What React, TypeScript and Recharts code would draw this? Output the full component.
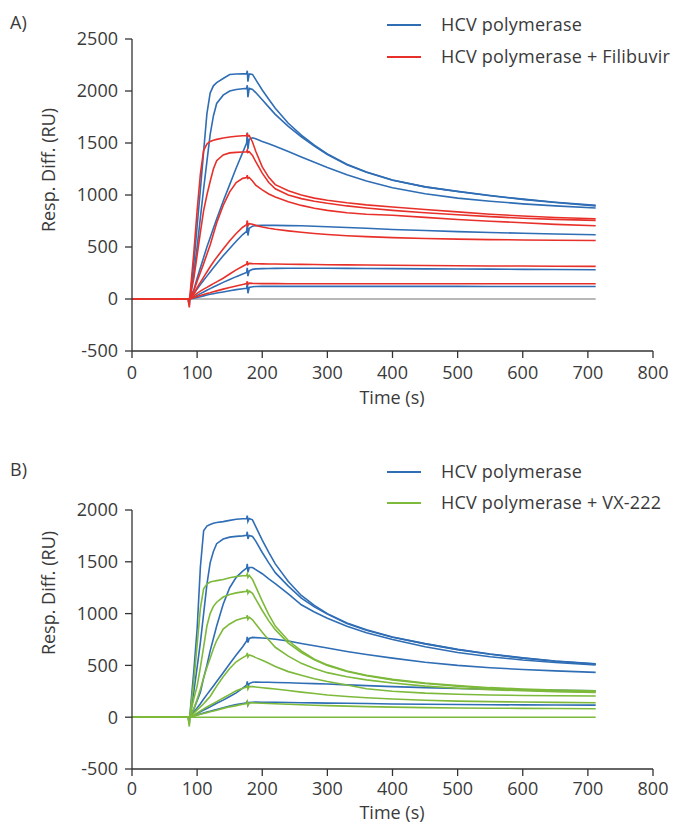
import React from 'react';
import { LineChart, Line, XAxis, YAxis } from 'recharts';

// Time grid (s)
const TIME = [0, 86, 88, 90, 95, 100, 105, 110, 115, 120, 125, 130, 140, 150, 160, 170, 176, 177, 178, 180, 185, 190, 200, 210, 220, 240, 260, 280, 300, 330, 360, 400, 450, 500, 550, 600, 650, 712];

const X_TICKS = [0, 100, 200, 300, 400, 500, 600, 700, 800];
const Y_TICKS_A = [-500, 0, 500, 1000, 1500, 2000, 2500];
const Y_TICKS_B = [-500, 0, 500, 1000, 1500, 2000];

const ZERO = [0, 0, 0, 0, 0, 0, 0, 0, 0, 0, 0, 0, 0, 0, 0, 0, 0, 0, 0, 0, 0, 0, 0, 0, 0, 0, 0, 0, 0, 0, 0, 0, 0, 0, 0, 0, 0, 0];

// Panel A – HCV polymerase
const A_BLUE_1 = [0, 0, -60, 80, 350, 700, 1050, 1420, 1780, 1980, 2050, 2080, 2120, 2158, 2163, 2165, 2165, 2195, 2090, 2165, 2160, 2110, 2010, 1920, 1835, 1690, 1575, 1480, 1395, 1295, 1222, 1145, 1078, 1035, 995, 960, 930, 900];
const A_BLUE_2 = [0, 0, 0, 40, 250, 500, 780, 1060, 1320, 1580, 1760, 1880, 1960, 2000, 2015, 2022, 2025, 2055, 1940, 2025, 2015, 1985, 1915, 1845, 1775, 1660, 1560, 1470, 1390, 1290, 1218, 1142, 1078, 1033, 993, 958, 928, 895];
const A_BLUE_3 = [0, 0, 0, 20, 90, 200, 300, 400, 500, 590, 680, 770, 940, 1100, 1260, 1410, 1500, 1600, 1440, 1535, 1550, 1540, 1515, 1492, 1468, 1418, 1365, 1315, 1265, 1195, 1135, 1070, 1012, 970, 940, 915, 895, 875];
const A_BLUE_4 = [0, 0, 0, 10, 50, 95, 138, 180, 220, 260, 300, 340, 415, 485, 555, 620, 650, 720, 610, 680, 700, 706, 708, 708, 708, 706, 704, 700, 695, 688, 680, 668, 658, 648, 640, 632, 625, 618];
const A_BLUE_5 = [0, 0, 0, 5, 18, 35, 52, 68, 84, 100, 115, 130, 160, 188, 215, 240, 255, 300, 220, 270, 285, 290, 292, 293, 294, 295, 295, 295, 295, 294, 293, 292, 290, 288, 287, 285, 283, 281];
const A_BLUE_6 = [0, 0, 0, 2, 8, 15, 22, 30, 38, 45, 51, 57, 68, 79, 90, 99, 103, 155, 55, 112, 118, 120, 121, 121, 121, 121, 121, 121, 121, 121, 121, 121, 121, 121, 120, 120, 120, 120];

// Panel A – HCV polymerase + Filibuvir
const A_RED_1 = [0, 0, -80, 100, 450, 850, 1200, 1430, 1490, 1515, 1527, 1535, 1548, 1558, 1565, 1570, 1572, 1595, 1565, 1572, 1510, 1420, 1270, 1170, 1100, 1040, 1000, 970, 950, 925, 905, 885, 860, 838, 815, 798, 783, 772];
const A_RED_2 = [0, 0, 0, 50, 200, 420, 640, 850, 1000, 1130, 1250, 1330, 1385, 1405, 1410, 1413, 1415, 1432, 1408, 1415, 1380, 1320, 1210, 1120, 1060, 1000, 965, 940, 920, 895, 875, 852, 830, 810, 792, 777, 766, 756];
const A_RED_3 = [0, 0, 0, 20, 80, 170, 255, 340, 430, 520, 625, 730, 900, 1030, 1120, 1160, 1168, 1190, 1160, 1168, 1135, 1095, 1050, 1010, 980, 935, 900, 872, 852, 830, 815, 805, 785, 765, 748, 733, 718, 705];
const A_RED_4 = [0, 0, 0, 10, 50, 110, 160, 210, 260, 310, 355, 400, 480, 560, 630, 690, 715, 755, 705, 725, 718, 708, 692, 680, 670, 655, 642, 630, 620, 608, 600, 590, 582, 576, 571, 568, 565, 562];
const A_RED_5 = [0, 0, 0, 5, 30, 55, 75, 95, 112, 130, 148, 165, 200, 240, 280, 315, 335, 365, 330, 342, 340, 339, 338, 337, 336, 334, 333, 332, 330, 328, 327, 325, 322, 320, 318, 317, 315, 314];
const A_RED_6 = [0, 0, 0, 3, 15, 25, 34, 43, 52, 60, 69, 78, 95, 110, 125, 140, 148, 170, 140, 152, 150, 149, 148, 148, 148, 147, 147, 147, 147, 147, 147, 147, 147, 147, 147, 147, 147, 147];

// Panel B – HCV polymerase
const B_BLUE_1 = [0, 0, -60, 100, 450, 850, 1450, 1800, 1845, 1860, 1872, 1880, 1888, 1900, 1910, 1915, 1918, 1945, 1890, 1918, 1905, 1840, 1710, 1590, 1480, 1310, 1175, 1080, 1000, 910, 845, 775, 710, 655, 610, 573, 543, 515];
const B_BLUE_2 = [0, 0, 0, 40, 250, 480, 720, 1000, 1280, 1490, 1600, 1675, 1720, 1738, 1745, 1750, 1755, 1790, 1720, 1755, 1745, 1700, 1590, 1490, 1395, 1265, 1150, 1065, 995, 905, 840, 772, 708, 652, 607, 570, 540, 512];
const B_BLUE_3 = [0, 0, 0, 15, 80, 160, 240, 380, 500, 640, 760, 880, 1090, 1250, 1350, 1410, 1440, 1480, 1400, 1445, 1445, 1425, 1385, 1335, 1290, 1190, 1085, 1015, 955, 878, 815, 750, 680, 625, 583, 552, 528, 505];
const B_BLUE_4 = [0, 0, 0, 10, 50, 90, 130, 175, 218, 260, 302, 345, 430, 515, 600, 680, 735, 775, 720, 760, 770, 768, 765, 760, 752, 735, 712, 690, 668, 635, 605, 570, 530, 500, 478, 460, 447, 433];
const B_BLUE_5 = [0, 0, 0, 5, 18, 35, 52, 68, 84, 100, 118, 135, 165, 200, 235, 280, 310, 345, 290, 325, 338, 340, 338, 337, 335, 332, 328, 324, 320, 312, 305, 295, 285, 277, 270, 265, 260, 255];
const B_BLUE_6 = [0, 0, 0, 3, 12, 22, 31, 40, 49, 58, 66, 75, 92, 108, 122, 133, 138, 160, 115, 142, 145, 146, 145, 145, 144, 142, 140, 138, 136, 134, 132, 128, 125, 122, 120, 119, 118, 117];

// Panel B – HCV polymerase + VX-222
const B_GREEN_1 = [0, 0, -90, 80, 350, 700, 1050, 1240, 1285, 1305, 1312, 1318, 1330, 1346, 1358, 1366, 1368, 1385, 1350, 1370, 1330, 1260, 1120, 990, 880, 740, 640, 560, 505, 445, 405, 365, 330, 305, 285, 272, 262, 255];
const B_GREEN_2 = [0, 0, 0, 40, 180, 300, 480, 680, 880, 1000, 1070, 1110, 1160, 1185, 1200, 1210, 1215, 1235, 1195, 1218, 1195, 1140, 1030, 930, 845, 715, 625, 555, 500, 442, 400, 360, 325, 298, 278, 263, 252, 245];
const B_GREEN_3 = [0, 0, 0, 20, 80, 170, 270, 380, 480, 570, 660, 740, 850, 900, 935, 955, 962, 985, 945, 965, 940, 900, 820, 745, 675, 590, 520, 470, 430, 390, 360, 330, 300, 280, 265, 255, 247, 240];
const B_GREEN_4 = [0, 0, 0, 10, 40, 70, 100, 130, 165, 200, 250, 300, 390, 470, 535, 575, 595, 620, 580, 600, 590, 575, 550, 520, 490, 440, 405, 372, 345, 310, 275, 250, 232, 222, 215, 210, 207, 204];
const B_GREEN_5 = [0, 0, 0, 5, 20, 40, 60, 80, 98, 115, 132, 150, 185, 220, 255, 280, 290, 310, 270, 295, 295, 292, 285, 278, 272, 258, 242, 228, 215, 200, 188, 175, 163, 155, 150, 146, 143, 140];
const B_GREEN_6 = [0, 0, 0, 3, 10, 20, 28, 36, 44, 52, 60, 68, 85, 100, 112, 125, 132, 150, 115, 137, 138, 137, 135, 132, 130, 125, 120, 116, 112, 107, 102, 97, 92, 89, 87, 85, 84, 82];

const BLUE = '#2f6db5';
const RED = '#e8302a';
const GREEN = '#7db93a';
const GRAY = '#a0a0a0';
const TEXT = '#3a3a3a';
const FONT = '"Open Sans", "Noto Sans", sans-serif';
const FS = 18;

type Series = { key: string; values: number[]; color: string };

function buildRows(series: Series[]) {
  return TIME.map((t, i) => {
    const row: Record<string, number> = { t };
    series.forEach((s) => {
      row[s.key] = s.values[i];
    });
    return row;
  });
}

const seriesA: Series[] = [
  { key: 'zero', values: ZERO, color: GRAY },
  { key: 'b1', values: A_BLUE_1, color: BLUE },
  { key: 'b2', values: A_BLUE_2, color: BLUE },
  { key: 'b3', values: A_BLUE_3, color: BLUE },
  { key: 'b4', values: A_BLUE_4, color: BLUE },
  { key: 'b5', values: A_BLUE_5, color: BLUE },
  { key: 'b6', values: A_BLUE_6, color: BLUE },
  { key: 'r1', values: A_RED_1, color: RED },
  { key: 'r2', values: A_RED_2, color: RED },
  { key: 'r3', values: A_RED_3, color: RED },
  { key: 'r4', values: A_RED_4, color: RED },
  { key: 'r5', values: A_RED_5, color: RED },
  { key: 'r6', values: A_RED_6, color: RED },
];

const seriesB: Series[] = [
  { key: 'b1', values: B_BLUE_1, color: BLUE },
  { key: 'b2', values: B_BLUE_2, color: BLUE },
  { key: 'b3', values: B_BLUE_3, color: BLUE },
  { key: 'b4', values: B_BLUE_4, color: BLUE },
  { key: 'b5', values: B_BLUE_5, color: BLUE },
  { key: 'b6', values: B_BLUE_6, color: BLUE },
  { key: 'zero', values: ZERO, color: GREEN },
  { key: 'g1', values: B_GREEN_1, color: GREEN },
  { key: 'g2', values: B_GREEN_2, color: GREEN },
  { key: 'g3', values: B_GREEN_3, color: GREEN },
  { key: 'g4', values: B_GREEN_4, color: GREEN },
  { key: 'g5', values: B_GREEN_5, color: GREEN },
  { key: 'g6', values: B_GREEN_6, color: GREEN },
];

const tickStyle = { fill: TEXT, fontSize: FS, fontFamily: FONT };

function Panel(props: {
  series: Series[];
  height: number;
  top: number;
  plotBottom: number;
  xTickMargin: number;
  yDomain: [number, number];
  yTicks: number[];
}) {
  const data = buildRows(props.series);
  return (
    <LineChart
      width={683}
      height={props.height}
      data={data}
      margin={{ top: props.top, right: 30, bottom: props.height - props.plotBottom - 30, left: 0 }}
    >
      <XAxis
        type="number"
        dataKey="t"
        domain={[0, 800]}
        ticks={X_TICKS}
        allowDataOverflow
        height={30}
        tickSize={7}
        tickMargin={props.xTickMargin}
        stroke="#333"
        tick={tickStyle}
        axisLine={{ stroke: '#333', strokeWidth: 1.3 }}
        tickLine={{ stroke: '#333', strokeWidth: 1.3 }}
      />
      <YAxis
        type="number"
        domain={props.yDomain}
        ticks={props.yTicks}
        allowDataOverflow
        width={132}
        tickSize={7}
        tickMargin={7}
        stroke="#333"
        tick={tickStyle}
        axisLine={{ stroke: '#333', strokeWidth: 1.3 }}
        tickLine={{ stroke: '#333', strokeWidth: 1.3 }}
      />
      {props.series.map((s) => (
        <Line
          key={s.key}
          type="linear"
          dataKey={s.key}
          stroke={s.color}
          strokeWidth={1.6}
          dot={false}
          activeDot={false}
          isAnimationActive={false}
        />
      ))}
    </LineChart>
  );
}

function Abs(props: { left: number; top: number; children: React.ReactNode; style?: React.CSSProperties }) {
  return (
    <div
      style={{
        position: 'absolute',
        left: props.left,
        top: props.top,
        fontFamily: FONT,
        fontSize: FS,
        color: TEXT,
        lineHeight: '18px',
        whiteSpace: 'nowrap',
        ...props.style,
      }}
    >
      {props.children}
    </div>
  );
}

function LegendRow(props: { y: number; color: string; label: string }) {
  return (
    <>
      <div style={{ position: 'absolute', left: 387, top: props.y - 1, width: 34, height: 2, background: props.color }} />
      <Abs left={441} top={props.y - 10} style={{ letterSpacing: '0.2px' }}>{props.label}</Abs>
    </>
  );
}

function YTitle(props: { cx: number; cy: number }) {
  return (
    <Abs
      left={props.cx - 100}
      top={props.cy - 9}
      style={{ width: 200, height: 18, textAlign: 'center', transform: 'rotate(-90deg)' }}
    >
      Resp. Diff. (RU)
    </Abs>
  );
}

export default function App() {
  return (
    <div style={{ position: 'absolute', left: 0, top: 0, width: 683, height: 825, background: '#fff', overflow: 'hidden' }}>
      <div style={{ position: 'absolute', left: 0, top: 0 }}>
        <Panel series={seriesA} height={410} top={39} plotBottom={351} xTickMargin={8} yDomain={[-500, 2500]} yTicks={Y_TICKS_A} />
      </div>
      <div style={{ position: 'absolute', left: 0, top: 410 }}>
        <Panel series={seriesB} height={415} top={100} plotBottom={359} xTickMargin={6} yDomain={[-500, 2000]} yTicks={Y_TICKS_B} />
      </div>

      <Abs left={10} top={13}>A)</Abs>
      <LegendRow y={25} color={BLUE} label="HCV polymerase" />
      <LegendRow y={57} color={RED} label="HCV polymerase + Filibuvir" />
      <YTitle cx={48} cy={170} />
      <Abs left={342} top={388} style={{ width: 100, textAlign: 'center' }}>Time (s)</Abs>

      <Abs left={10} top={460}>B)</Abs>
      <LegendRow y={472} color={BLUE} label="HCV polymerase" />
      <LegendRow y={503} color={GREEN} label="HCV polymerase + VX-222" />
      <YTitle cx={48} cy={593} />
      <Abs left={342} top={803} style={{ width: 100, textAlign: 'center' }}>Time (s)</Abs>
    </div>
  );
}
